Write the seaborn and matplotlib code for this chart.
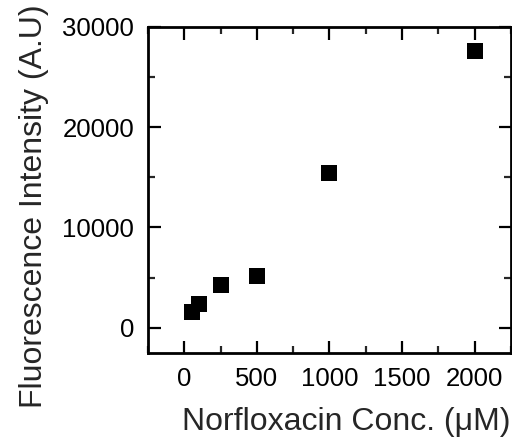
import pandas as pd
import seaborn as sns
import matplotlib.pyplot as plt
from matplotlib.ticker import MultipleLocator

# Données
conc_uM = [50, 100, 250, 500, 1000, 2000]
intensity = [1520, 2390, 4280, 5180, 15400, 27600]

df = pd.DataFrame({"Conc": conc_uM, "Intensity": intensity})

sns.set_style("ticks")
plt.rcParams['font.family'] = ['Liberation Sans', 'DejaVu Sans']

fig = plt.figure(figsize=(5.12, 4.41), dpi=100)
ax = fig.add_axes([0.289, 0.200, 0.709, 0.739])

sns.scatterplot(data=df, x="Conc", y="Intensity", marker="s", color="black",
                s=120, edgecolor="black", linewidth=0, ax=ax)

ax.set_xlim(-250, 2250)
ax.set_ylim(-2500, 30000)
ax.xaxis.set_major_locator(MultipleLocator(500))
ax.xaxis.set_minor_locator(MultipleLocator(250))
ax.yaxis.set_major_locator(MultipleLocator(10000))
ax.yaxis.set_minor_locator(MultipleLocator(5000))
ax.set_xticks([0, 500, 1000, 1500, 2000])
ax.set_yticks([0, 10000, 20000, 30000])

for side in ["top", "right", "bottom", "left"]:
    ax.spines[side].set_visible(True)
    ax.spines[side].set_linewidth(2)
    ax.spines[side].set_color("black")

ax.tick_params(which="major", direction="in", length=9, width=1.6,
               top=True, right=True, labelsize=18.5, pad=10, colors="black")
ax.tick_params(which="minor", direction="in", length=5, width=1.6,
               top=True, right=True)

ax.set_xlabel("Norfloxacin Conc. (\u03bcM)", fontsize=23)
ax.set_ylabel("Fluorescence Intensity (A.U)", fontsize=23)
# position des titres d'axes comme sur l'original
ax.xaxis.set_label_coords(0.545, -0.167)
ax.yaxis.set_label_coords(-0.273, 0.45)

fig.savefig("out.png", dpi=100)
